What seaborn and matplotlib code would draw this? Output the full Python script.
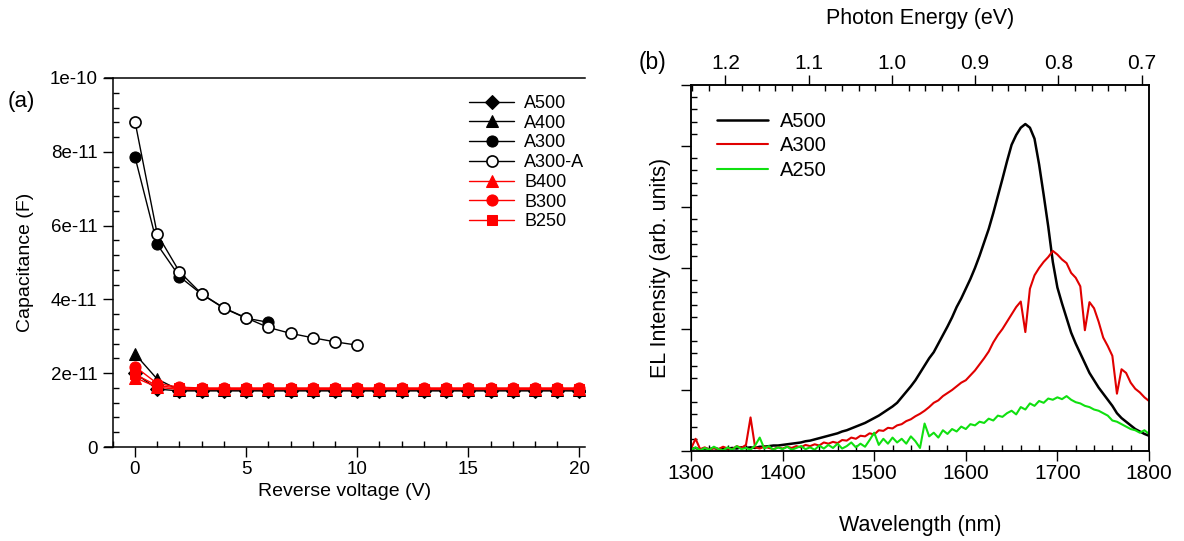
import numpy as np
import pandas as pd
import seaborn as sns
import matplotlib.pyplot as plt
from matplotlib.ticker import MultipleLocator, NullFormatter, FormatStrFormatter

sns.set_style('ticks')
plt.rcParams['font.family'] = ['Liberation Sans', 'DejaVu Sans']
plt.rcParams.update({'text.color': 'black', 'axes.labelcolor': 'black',
                     'xtick.color': 'black', 'ytick.color': 'black',
                     'axes.edgecolor': 'black'})

# (a) C-V data
volt_short = [0, 1, 2, 3, 4, 5, 6]
volt_a300a = [0, 1, 2, 3, 4, 5, 6, 7, 8, 9, 10]
volt_long = list(range(21))

cap_a500 = [2.00, 1.57] + [1.52] * 19
cap_a400 = [2.52, 1.84] + [1.54] * 19
cap_a300 = [7.86, 5.49, 4.62, 4.14, 3.76, 3.49, 3.38]
cap_a300a = [8.82, 5.77, 4.75, 4.15, 3.77, 3.50, 3.24, 3.08, 2.96, 2.85, 2.76]
cap_b400 = [1.88, 1.62] + [1.56] * 19
cap_b300 = [2.18, 1.72, 1.62] + [1.60] * 18
cap_b250 = [1.97, 1.66, 1.60] + [1.58] * 18

# (b) EL spectra, 5 nm grid
wl = list(range(1300, 1801, 5))
el_a500 = [0.03, 0.05, 0.02, 0.04, 0.03, 0.05, 0.03, 0.04, 0.04, 0.05,
           0.04, 0.06, 0.05, 0.06, 0.05, 0.07, 0.07, 0.08, 0.09, 0.09,
           0.10, 0.11, 0.12, 0.13, 0.14, 0.16, 0.17, 0.19, 0.21, 0.23,
           0.25, 0.27, 0.29, 0.32, 0.34, 0.37, 0.40, 0.43, 0.46, 0.50,
           0.54, 0.58, 0.63, 0.68, 0.73, 0.79, 0.88, 0.97, 1.06, 1.16,
           1.28, 1.40, 1.52, 1.62, 1.76, 1.90, 2.04, 2.19, 2.36, 2.50,
           2.66, 2.82, 3.00, 3.20, 3.42, 3.64, 3.90, 4.18, 4.46, 4.75,
           5.02, 5.18, 5.30, 5.36, 5.30, 5.12, 4.70, 4.20, 3.68, 3.10,
           2.68, 2.42, 2.18, 1.94, 1.76, 1.60, 1.44, 1.28, 1.16, 1.04,
           0.94, 0.84, 0.74, 0.62, 0.54, 0.48, 0.42, 0.36, 0.32, 0.28,
           0.25]
el_a300 = [0.04, 0.20, 0.03, 0.06, 0.02, 0.05, 0.03, 0.07, 0.04, 0.03,
           0.08, 0.05, 0.10, 0.55, 0.06, 0.04, 0.07, 0.05, 0.03, 0.06,
           0.04, 0.07, 0.05, 0.08, 0.06, 0.10, 0.08, 0.11, 0.09, 0.14,
           0.12, 0.15, 0.13, 0.18, 0.17, 0.22, 0.20, 0.25, 0.24, 0.29,
           0.27, 0.34, 0.33, 0.38, 0.37, 0.42, 0.44, 0.49, 0.52, 0.57,
           0.61, 0.66, 0.72, 0.79, 0.83, 0.90, 0.95, 1.00, 1.06, 1.12,
           1.16, 1.24, 1.32, 1.42, 1.52, 1.63, 1.78, 1.90, 2.00, 2.12,
           2.24, 2.36, 2.45, 1.95, 2.66, 2.88, 3.00, 3.10, 3.18, 3.28,
           3.22, 3.14, 3.08, 2.92, 2.84, 2.70, 1.98, 2.44, 2.34, 2.12,
           1.86, 1.72, 1.56, 0.94, 1.34, 1.28, 1.12, 1.02, 0.96, 0.88,
           0.82]
el_a250 = [0.02, 0.06, 0.01, 0.05, 0.02, 0.07, 0.03, 0.01, 0.06, 0.02,
           0.08, 0.03, 0.05, 0.02, 0.09, 0.22, 0.04, 0.08, 0.02, 0.06,
           0.03, 0.07, 0.02, 0.05, 0.08, 0.03, 0.06, 0.02, 0.09, 0.04,
           0.10, 0.05, 0.12, 0.04, 0.08, 0.14, 0.06, 0.12, 0.07, 0.18,
           0.30, 0.10, 0.20, 0.12, 0.22, 0.14, 0.20, 0.12, 0.24, 0.16,
           0.05, 0.45, 0.24, 0.30, 0.22, 0.34, 0.28, 0.36, 0.32, 0.40,
           0.36, 0.44, 0.42, 0.48, 0.46, 0.53, 0.50, 0.58, 0.56, 0.62,
           0.66, 0.60, 0.72, 0.68, 0.78, 0.74, 0.82, 0.79, 0.86, 0.84,
           0.88, 0.85, 0.90, 0.84, 0.80, 0.78, 0.74, 0.72, 0.68, 0.66,
           0.62, 0.58, 0.50, 0.48, 0.44, 0.40, 0.36, 0.34, 0.30, 0.34,
           0.28]

red = '#ff0000'
fig = plt.figure(figsize=(11.84, 5.41), dpi=100)

# ---------------- panel (a)
ax = fig.add_axes([105 / 1184, 1 - 447 / 541, 480 / 1184, 369 / 541])
ms = 8
sns.lineplot(x=volt_long, y=np.array(cap_a500) * 1e-11, ax=ax, color='k', lw=1,
             marker='D', markersize=ms - 1, mec='k', label='A500')
sns.lineplot(x=volt_long, y=np.array(cap_a400) * 1e-11, ax=ax, color='k', lw=1,
             marker='^', markersize=ms, mec='k', label='A400')
sns.lineplot(x=volt_short, y=np.array(cap_a300) * 1e-11, ax=ax, color='k', lw=1,
             marker='o', markersize=ms, mec='k', label='A300')
sns.lineplot(x=volt_a300a, y=np.array(cap_a300a) * 1e-11, ax=ax, color='k', lw=1,
             marker='o', markersize=ms, mfc='white', mec='k', mew=1.2, label='A300-A')
sns.lineplot(x=volt_long, y=np.array(cap_b400) * 1e-11, ax=ax, color=red, lw=1,
             marker='^', markersize=ms, mec=red, label='B400')
sns.lineplot(x=volt_long, y=np.array(cap_b300) * 1e-11, ax=ax, color=red, lw=1,
             marker='o', markersize=ms, mec=red, label='B300')
sns.lineplot(x=volt_long, y=np.array(cap_b250) * 1e-11, ax=ax, color=red, lw=1,
             marker='s', markersize=ms - 1, mec=red, label='B250')

ax.set_xlim(-1.35, 20.25)
ax.set_ylim(0, 1e-10)
ax.spines['left'].set_position(('data', -1.0))
ax.spines['right'].set_visible(False)
ax.xaxis.set_major_locator(MultipleLocator(5))
ax.xaxis.set_minor_locator(MultipleLocator(1))
ax.yaxis.set_minor_locator(MultipleLocator(0.4e-11))
ax.set_yticks([0, 2e-11, 4e-11, 6e-11, 8e-11, 1e-10])
ax.set_yticklabels(['0', '2e-11', '4e-11', '6e-11', '8e-11', '1e-10'])
ax.tick_params(which='major', direction='out', length=7, width=1, labelsize=13.5, pad=4)
ax.tick_params(axis='x', which='major', pad=3)
ax.tick_params(which='minor', direction='in', length=4, width=1)
ax.tick_params(top=False, which='both')
for s in ax.spines.values():
    s.set_linewidth(1.1)
ax.set_xlabel('Reverse voltage (V)', fontsize=14, labelpad=4)
ax.set_ylabel('Capacitance (F)', fontsize=14, labelpad=11)
ax.legend(loc='upper left', bbox_to_anchor=(469 / 1184, 1 - 95 / 541),
          bbox_transform=fig.transFigure, frameon=False, fontsize=13,
          handlelength=2.5, handletextpad=0.55, labelspacing=0.15,
          borderpad=0, borderaxespad=0)
fig.text(21 / 1184, 1 - 101 / 541, '(a)', fontsize=16, ha='center', va='center')

# ---------------- panel (b)
axb = fig.add_axes([691 / 1184, 1 - 451 / 541, 458 / 1184, 366 / 541])
df = pd.DataFrame({'wl': wl, 'A500': el_a500, 'A300': el_a300, 'A250': el_a250})
sns.lineplot(data=df, x='wl', y='A500', ax=axb, color='k', lw=1.8, label='A500')
sns.lineplot(data=df, x='wl', y='A300', ax=axb, color='#e00000', lw=1.5, label='A300')
sns.lineplot(data=df, x='wl', y='A250', ax=axb, color='#10e010', lw=1.5, label='A250')
axb.set_xlim(1300, 1800)
axb.set_ylim(0, 6)
axb.xaxis.set_major_locator(MultipleLocator(100))
axb.xaxis.set_minor_locator(MultipleLocator(20))
axb.yaxis.set_major_locator(MultipleLocator(1))
axb.yaxis.set_minor_locator(MultipleLocator(0.2))
axb.yaxis.set_major_formatter(NullFormatter())
axb.tick_params(which='major', direction='out', length=7, width=1, labelsize=15, pad=2.5)
axb.tick_params(which='minor', direction='in', length=4, width=1)
axb.tick_params(which='both', top=False, right=False)
for s in axb.spines.values():
    s.set_linewidth(1.1)
axb.set_xlabel('Wavelength (nm)', fontsize=15.5, labelpad=23)
axb.set_ylabel('EL Intensity (arb. units)', fontsize=15.5, labelpad=5)
axb.legend(loc='upper left', bbox_to_anchor=(717 / 1184, 1 - 112 / 541),
           bbox_transform=fig.transFigure, frameon=False, fontsize=14.5,
           handlelength=2.55, handletextpad=0.6, labelspacing=0.27,
           borderpad=0, borderaxespad=0)

top = axb.twiny()
top.set_xlim(1.2413, 0.6911)
top.xaxis.set_major_locator(MultipleLocator(0.1))
top.xaxis.set_minor_locator(MultipleLocator(0.02))
top.xaxis.set_major_formatter(FormatStrFormatter('%.1f'))
top.tick_params(which='major', direction='out', length=7, width=1, labelsize=15, pad=1.5)
top.tick_params(which='minor', direction='in', length=4, width=1)
for s in top.spines.values():
    s.set_linewidth(1.1)
top.set_xlabel('Photon Energy (eV)', fontsize=15.5, labelpad=22)
fig.text(652 / 1184, 1 - 62 / 541, '(b)', fontsize=16.5, ha='center', va='center')

fig.savefig('out.png', dpi=100)
